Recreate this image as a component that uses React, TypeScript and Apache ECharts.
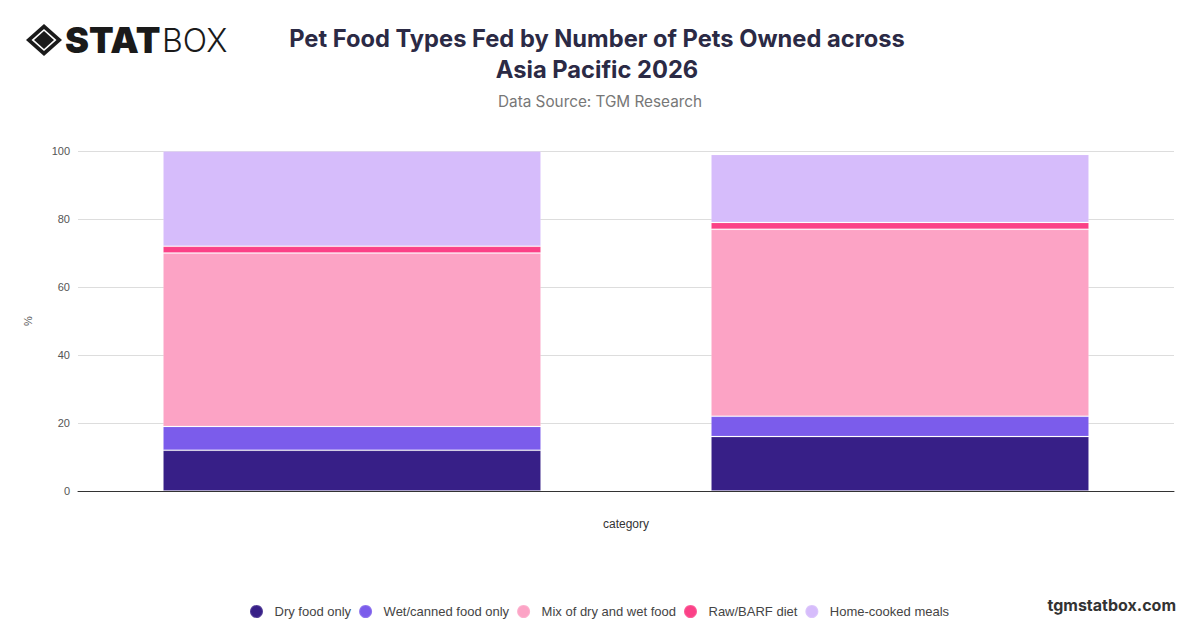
import React, { useEffect, useRef } from "react";
import * as echarts from "echarts";

const categories = ["Group 1", "Group 2"];
const seriesNames = [
  "Dry food only",
  "Wet/canned food only",
  "Mix of dry and wet food",
  "Raw/BARF diet",
  "Home-cooked meals",
];
const dryFood = [12, 16];
const wetFood = [7, 6];
const mixFood = [51, 55];
const rawFood = [2, 2];
const homeCooked = [28, 20];
const colors = ["#371F87", "#7B5CEB", "#FCA3C5", "#FB4187", "#D6BCFB"];
const yTicks = [0, 20, 40, 60, 80, 100];

export default function App() {
  const ref = useRef<HTMLDivElement>(null);
  useEffect(() => {
    if (!ref.current) return;
    const chart = echarts.init(ref.current, undefined, { renderer: "svg" });
    const values = [dryFood, wetFood, mixFood, rawFood, homeCooked];
    chart.setOption({
      animation: false,
      backgroundColor: "#ffffff",
      color: colors,
      title: [
        {
          text: "Pet Food Types Fed by Number of Pets Owned across\nAsia Pacific 2026",
          left: 592,
          top: 18,
          textAlign: "center",
          textStyle: {
            fontFamily: "Inter",
            fontSize: 23.7,
            fontWeight: "bold",
            color: "#2B2A45",
            lineHeight: 31,
          },
        },
        {
          text: "Data Source: TGM Research",
          left: 595,
          top: 89,
          textAlign: "center",
          textStyle: {
            fontFamily: "Inter",
            fontSize: 15.3,
            fontWeight: "normal",
            color: "#777777",
          },
        },
      ],
      legend: {
        bottom: 4,
        left: 244,
        icon: "circle",
        itemWidth: 26,
        itemHeight: 13,
        itemGap: 7,
        data: seriesNames,
        textStyle: { fontFamily: "Liberation Sans", fontSize: 13, color: "#444444" },
      },
      grid: { left: 78, right: 26, top: 151, bottom: 137 },
      xAxis: {
        type: "category",
        data: categories,
        name: "category",
        nameLocation: "middle",
        nameGap: 27,
        nameTextStyle: { fontFamily: "Liberation Sans", fontSize: 12, color: "#333333" },
        axisLabel: { show: false },
        axisTick: { show: false },
        axisLine: { lineStyle: { color: "#333333", width: 1 } },
      },
      yAxis: {
        type: "value",
        min: yTicks[0],
        max: yTicks[yTicks.length - 1],
        interval: 20,
        name: "%",
        nameLocation: "middle",
        nameGap: 45,
        nameTextStyle: { fontFamily: "Liberation Sans", fontSize: 11, color: "#555555" },
        axisLabel: { fontFamily: "Liberation Sans", fontSize: 11, color: "#555555", margin: 8 },
        splitLine: { lineStyle: { color: "#DDDDDD" } },
        axisLine: { show: false },
        axisTick: { show: false },
      },
      series: seriesNames.map((name, i) => ({
        name,
        type: "bar",
        stack: "total",
        barWidth: "69%",
        data: values[i],
        itemStyle: {
          color: colors[i],
          borderColor: "rgba(255,255,255,0.15)",
          borderWidth: 1,
        },
      })),
      graphic: [
        {
          type: "polygon",
          shape: { points: [[44, 24], [62, 40], [44, 56], [26, 40]] },
          style: { fill: "#1A1A1A" },
        },
        {
          type: "polygon",
          shape: { points: [[44, 29], [56.5, 40], [44, 51], [31.5, 40]] },
          style: { fill: "#ffffff" },
        },
        {
          type: "polygon",
          shape: { points: [[44, 31], [54, 40], [44, 49], [34, 40]] },
          style: { fill: "#1A1A1A" },
        },
        {
          type: "text",
          x: 65,
          y: 40,
          style: {
            text: "STAT",
            fontFamily: "Inter",
            fontSize: 36,
            fontWeight: 900,
            fill: "#1A1A1A",
            verticalAlign: "middle",
          },
        },
        {
          type: "text",
          x: 162,
          y: 40,
          style: {
            text: "BOX",
            fontFamily: "Inter",
            fontSize: 32,
            fontWeight: 300,
            fill: "#1A1A1A",
            verticalAlign: "middle",
          },
        },
        {
          type: "text",
          right: 24,
          top: 597,
          style: {
            text: "tgmstatbox.com",
            fontFamily: "Inter",
            fontSize: 16,
            fontWeight: "bold",
            fill: "#333333",
          },
        },
      ],
    });
    return () => chart.dispose();
  }, []);
  return (
    <div
      ref={ref}
      style={{ position: "fixed", left: 0, top: 0, width: 1200, height: 628 }}
    />
  );
}
